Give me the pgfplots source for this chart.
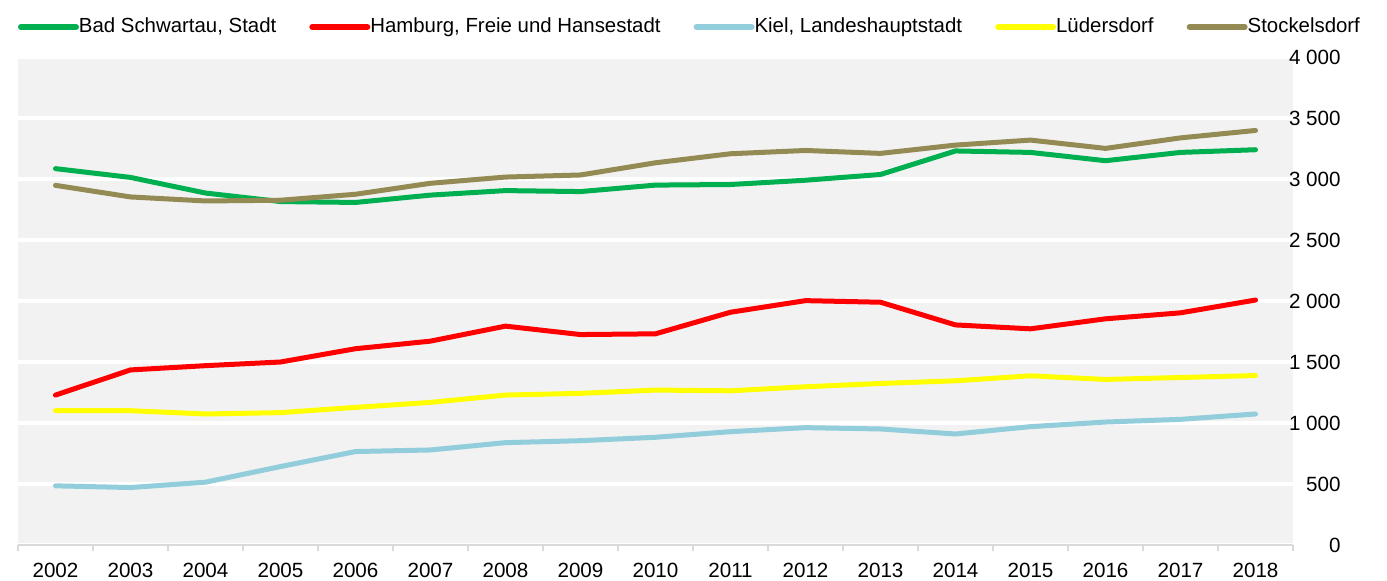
\documentclass[border=0pt]{standalone}
\usepackage{fontspec}
\setmainfont{Liberation Sans}
\usepackage{pgfplots}
\pgfplotsset{compat=1.18}
\definecolor{cGreen}{HTML}{00B050}
\definecolor{cRed}{HTML}{FF0000}
\definecolor{cBlue}{HTML}{92CDDC}
\definecolor{cYellow}{HTML}{FFFF00}
\definecolor{cTan}{HTML}{948A54}
\definecolor{bgGrey}{HTML}{F2F2F2}
\definecolor{lineGrey}{HTML}{D9D9D9}
\begin{document}
\fontsize{10.3pt}{12pt}\selectfont
\begin{tikzpicture}
\useasboundingbox (0,0) rectangle (693.5pt,290pt);
\begin{axis}[
  at={(9pt,17.5pt)}, anchor=south west,
  scale only axis, width=637.5pt, height=244pt,
  xmin=-0.5, xmax=16.5, ymin=0, ymax=4000,
  axis background/.style={fill=bgGrey},
  axis x line*=bottom, axis y line*=right,
  x axis line style={draw=lineGrey, line width=1pt},
  y axis line style={draw=none},
  ytick={0,500,...,4000},
  ymajorgrids, major grid style={white, line width=2pt},
  ytick style={draw=none},
  yticklabel style={anchor=east, xshift=24pt, inner sep=0pt},
  xtick={0,...,16},
  xticklabels={2002,2003,2004,2005,2006,2007,2008,2009,2010,2011,2012,2013,2014,2015,2016,2017,2018},
  minor xtick={-0.5,0.5,...,16.5},
  major tick length=0pt, minor tick length=3pt, tick align=outside,
  minor tick style={draw=lineGrey, line width=1pt},
  xticklabel style={inner sep=0pt, yshift=-9pt},
  /pgf/number format/assume math mode=true,
  /pgf/number format/1000 sep={\ },
  tick label style={font=\fontsize{10.3pt}{12pt}\selectfont},
  every axis plot/.append style={line width=2.5pt, line join=round, line cap=round},
  legend columns=5,
  legend image code/.code={\draw[#1, line width=3pt, line cap=round] (0pt,0pt) -- (27.5pt,0pt);},
  legend style={at={(0,1)}, anchor=west, yshift=15pt, draw=none, fill=none,
    inner sep=0pt, outer sep=0pt, column sep=0pt,
    nodes={inner sep=0pt, anchor=west},
    font=\fontsize{10.2pt}{12pt}\selectfont,
    /tikz/every even column/.append style={column sep=16.5pt}},
]
\addplot[cGreen] coordinates {(0,3085) (1,3013) (2,2885) (3,2815) (4,2808) (5,2868) (6,2905) (7,2897) (8,2950) (9,2955) (10,2990) (11,3037) (12,3230) (13,3218) (14,3150) (15,3218) (16,3240)};
\addlegendentry{Bad Schwartau, Stadt}
\addplot[cRed] coordinates {(0,1229) (1,1435) (2,1470) (3,1500) (4,1609) (5,1671) (6,1794) (7,1725) (8,1731) (9,1908) (10,2003) (11,1990) (12,1804) (13,1772) (14,1854) (15,1903) (16,2008)};
\addlegendentry{Hamburg, Freie und Hansestadt}
\addplot[cBlue] coordinates {(0,485) (1,471) (2,515) (3,643) (4,766) (5,779) (6,839) (7,855) (8,883) (9,929) (10,962) (11,951) (12,910) (13,970) (14,1008) (15,1030) (16,1074)};
\addlegendentry{Kiel, Landeshauptstadt}
\addplot[cYellow] coordinates {(0,1101) (1,1101) (2,1074) (3,1085) (4,1128) (5,1169) (6,1229) (7,1243) (8,1270) (9,1264) (10,1297) (11,1324) (12,1346) (13,1387) (14,1357) (15,1373) (16,1389)};
\addlegendentry{Lüdersdorf}
\addplot[cTan] coordinates {(0,2948) (1,2853) (2,2820) (3,2826) (4,2875) (5,2965) (6,3016) (7,3033) (8,3133) (9,3207) (10,3234) (11,3210) (12,3278) (13,3319) (14,3251) (15,3337) (16,3398)};
\addlegendentry{Stockelsdorf}
\end{axis}
\end{tikzpicture}
\end{document}
